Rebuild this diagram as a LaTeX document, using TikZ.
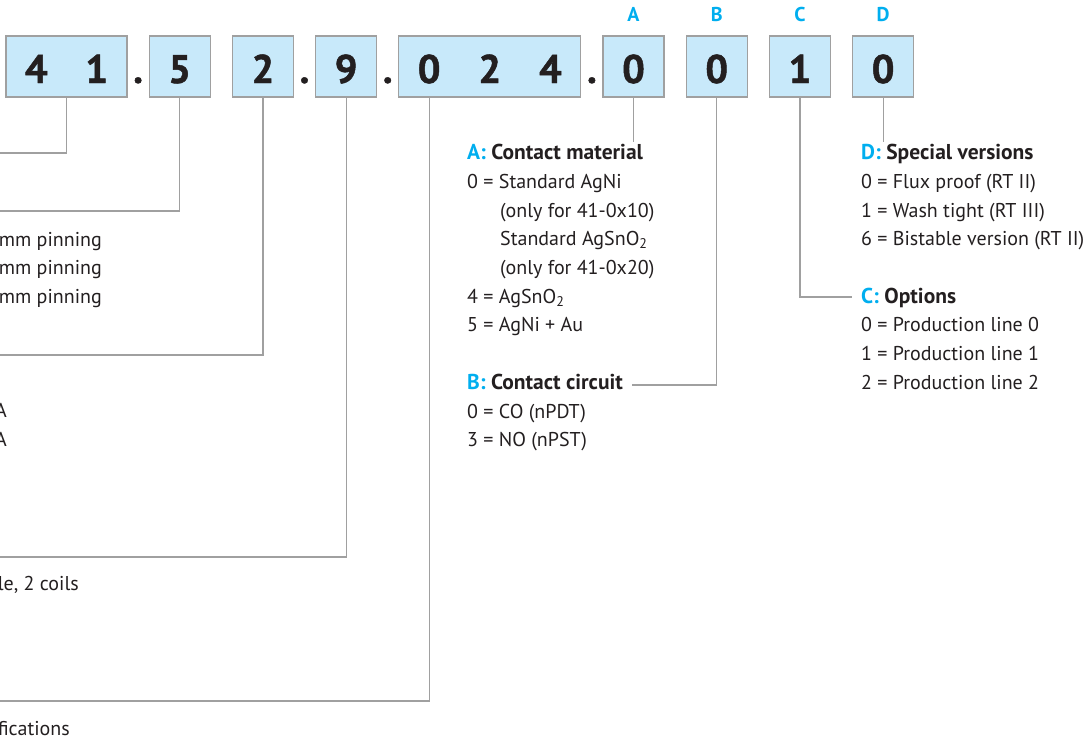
\documentclass[tikz,border=0pt]{standalone}
\usepackage{fontspec}
\setmainfont{PT Sans}
\newfontfamily\codefont{PT Sans Bold}[FakeBold=1.2]
\usetikzlibrary{positioning,calc}
\definecolor{keycyan}{HTML}{00AEEF}
\definecolor{boxfill}{HTML}{C8E9FA}
\definecolor{boxline}{HTML}{A0A0A0}
\definecolor{inkdark}{HTML}{231F20}
\tikzset{
  codebox/.style={draw=boxline, fill=boxfill, line width=1.3pt, minimum height=61pt, inner sep=0pt, outer sep=0pt,
    text=inkdark, text height=33pt, text depth=0pt, font=\fontsize{40}{40}\codefont},
  codedot/.style={anchor=base, inner sep=0pt, text=inkdark, font=\fontsize{40}{40}\codefont},
  keyletter/.style={inner sep=0pt, text=keycyan, font=\fontsize{20}{20}\selectfont\bfseries},
  leader/.style={draw=boxline, line width=1.2pt},
  heading/.style={anchor=base west, inner sep=0pt, text=inkdark, font=\fontsize{21.5}{24}\selectfont\bfseries},
  entries/.style={anchor=base west, inner sep=0pt, text=inkdark, align=left, font=\fontsize{20}{28.7}\selectfont},
}
\begin{document}
\begin{tikzpicture}[x=1pt,y=-1pt]
\useasboundingbox (0,0) rectangle (1088,742);
\clip (0,0) rectangle (1088,742);

% Drawing code boxes
\node[codebox, minimum width=121] (b41) at (66.5,66.5) {\makebox[60.5pt]{4}\makebox[60.5pt]{1}};
\node[codebox, minimum width=61, right=22.2pt of b41] (b5) {\makebox[61pt]{5}};
\node[codebox, minimum width=61, right=22.2pt of b5] (b2) {\makebox[61pt]{2}};
\node[codebox, minimum width=61, right=22.2pt of b2] (b9) {\makebox[61pt]{9}};
\node[codebox, minimum width=182, right=22.2pt of b9] (b024) {\makebox[60.67pt]{0}\makebox[60.67pt]{2}\makebox[60.67pt]{4}};
\node[codebox, minimum width=61, right=22.2pt of b024] (bA) {\makebox[61pt]{0}};
\node[codebox, minimum width=61, right=22.2pt of bA] (bB) {\makebox[61pt]{0}};
\node[codebox, minimum width=61, right=22.2pt of bB] (bC) {\makebox[61pt]{1}};
\node[codebox, minimum width=61, right=22.2pt of bC] (bD) {\makebox[61pt]{0}};

% Marking separating dots
\node[codedot] (dot1) at ($(b41.east)!.5!(b5.west)+(0,16.5)$) {.};
\node[codedot] (dot2) at ($(b2.east)!.5!(b9.west)+(0,16.5)$) {.};
\node[codedot] (dot3) at ($(b9.east)!.5!(b024.west)+(0,16.5)$) {.};
\node[codedot] (dot4) at ($(b024.east)!.5!(bA.west)+(0,16.5)$) {.};

% Marking key letters
\node[keyletter, above=14pt of bA] (kA) {A};
\node[keyletter, above=14pt of bB] (kB) {B};
\node[keyletter, above=14pt of bC] (kC) {C};
\node[keyletter, above=14pt of bD] (kD) {D};

% Drawing leaders
\coordinate (e41) at (0,153);
\coordinate (e5) at (0,211);
\coordinate (e2) at (0,355);
\coordinate (e9) at (0,557);
\coordinate (e024) at (0,701);
\coordinate (eA) at ($(bA.south)+(0,45)$);
\coordinate (eB) at (632,385);
\coordinate (eC) at (852,297);
\coordinate (eD) at ($(bD.south)+(0,45)$);
\draw[leader] (b41.south) |- (e41);
\draw[leader] (b5.south) |- (e5);
\draw[leader] (b2.south) |- (e2);
\draw[leader] (b9.south) |- (e9);
\draw[leader] ([xshift=-60.67pt]b024.south) |- (e024);
\draw[leader] (bA.south) -- (eA);
\draw[leader] (bB.south) |- (eB);
\draw[leader] (bC.south) |- (eC);
\draw[leader] (bD.south) -- (eD);

% Marking text blocks (base = last line)
\node[heading] (tA) at (467,159.3) {\textcolor{keycyan}{A:} Contact material};
\node[entries] (lA) at (467,331.8) {0 = Standard AgNi\\
  \hspace*{33pt}(only for 41-0x10)\\
  \hspace*{33pt}Standard AgSnO\textsubscript{2}\\
  \hspace*{33pt}(only for 41-0x20)\\
  4 = AgSnO\textsubscript{2}\\
  5 = AgNi + Au};
\node[heading] (tB) at (467,389) {\textcolor{keycyan}{B:} Contact circuit};
\node[entries] (lB) at (467,446.7) {0 = CO (nPDT)\\3 = NO (nPST)};
\node[heading] (tD) at (861,159.3) {\textcolor{keycyan}{D:} Special versions};
\node[entries] (lD) at (861,245.7) {0 = Flux proof (RT II)\\1 = Wash tight (RT III)\\6 = Bistable version (RT II)};
\node[heading] (tC) at (861,303) {\textcolor{keycyan}{C:} Options};
\node[entries] (lC) at (861,389.1) {0 = Production line 0\\1 = Production line 1\\2 = Production line 2};

% Marking cut-off texts on the left
\node[entries, anchor=base east, align=right] (fPin) at (102,303.4) {mm pinning\\mm pinning\\mm pinning};
\node[entries, anchor=base east, align=right] (fAmp) at (7,446.5) {A\\A};
\node[entries, anchor=base east] (fCoil) at (79,590) {le, 2 coils};
\node[entries, anchor=base east] (fSpec) at (70,735) {fications};
\end{tikzpicture}
\end{document}
